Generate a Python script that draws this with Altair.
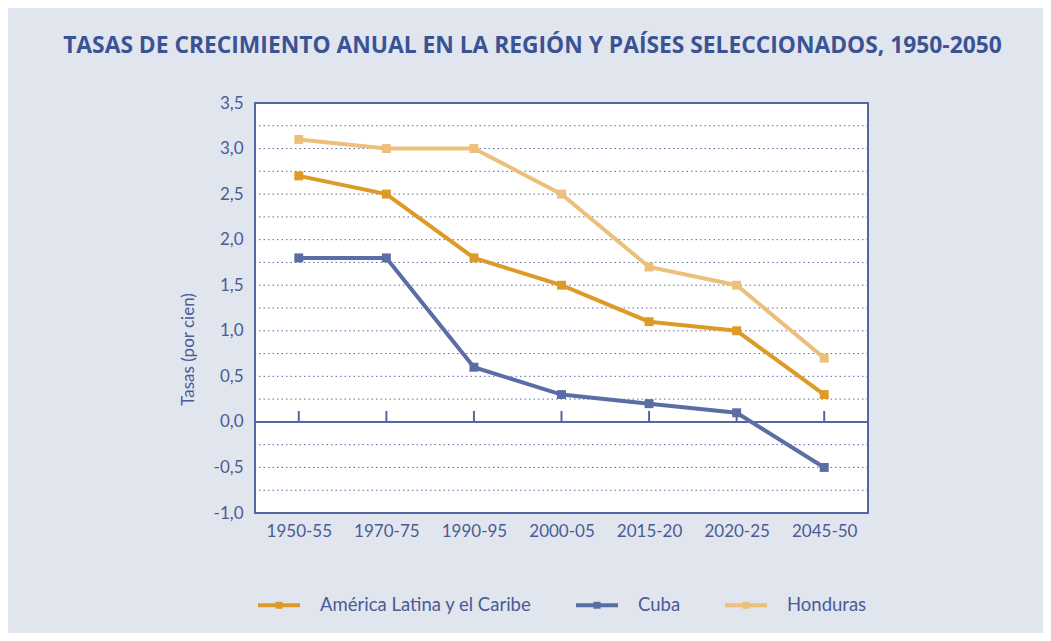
import altair as alt
import pandas as pd

periods = ["1950-55", "1970-75", "1990-95", "2000-05", "2015-20", "2020-25", "2045-50"]
series_names = ["América Latina y el Caribe", "Cuba", "Honduras"]
alc = [2.7, 2.5, 1.8, 1.5, 1.1, 1.0, 0.3]
cuba = [1.8, 1.8, 0.6, 0.3, 0.2, 0.1, -0.5]
honduras = [3.1, 3.0, 3.0, 2.5, 1.7, 1.5, 0.7]
colors = ["#DE9A26", "#5B6DA5", "#ECC07B"]
y_ticks = [-1.0, -0.5, 0.0, 0.5, 1.0, 1.5, 2.0, 2.5, 3.0, 3.5]
grid_vals = [-0.75, -0.5, -0.25, 0.25, 0.5, 0.75, 1.0, 1.25, 1.5, 1.75,
             2.0, 2.25, 2.5, 2.75, 3.0, 3.25]

rows = []
for name, vals in zip(series_names, [alc, cuba, honduras]):
    for p, v in zip(periods, vals):
        rows.append({"periodo": p, "serie": name, "tasa": v})
df = pd.DataFrame(rows)
grid_df = pd.DataFrame({"tasa": grid_vals})
tick_df = pd.DataFrame({"periodo": periods, "tasa": [0.0] * 7, "y1": [0.12] * 7})
zero_df = pd.DataFrame({"tasa": [0.0]})

BLUE = "#4A5B96"
FONT = "Lato"

xscale = alt.Scale(type="point", domain=periods, padding=0.5)
yscale = alt.Scale(domain=[-1, 3.5], nice=False, zero=False)

x_axis = alt.Axis(
    title=None, domain=False, ticks=False, grid=False, labelAngle=0,
    labelPadding=10, labelFontSize=17, labelColor=BLUE, labelFont=FONT,
)
y_axis = alt.Axis(
    title="Tasas (por cien)", values=y_ticks, domain=False, ticks=False,
    grid=False, labelPadding=12, labelFontSize=17, labelColor=BLUE,
    labelFont=FONT,
    labelExpr="replace(replace(format(datum.value, '.1f'), '.', ','), '\u2212', '-')",
    titleFont=FONT, titleFontSize=17, titleFontWeight="normal",
    titleColor=BLUE, titleX=-58, titleY=246,
)

X = alt.X("periodo:N", scale=xscale, sort=periods, axis=x_axis)
Y = alt.Y("tasa:Q", scale=yscale, axis=y_axis)

grid = alt.Chart(grid_df).mark_rule(
    color="#5B6DA5", strokeWidth=1, strokeDash=[1.5, 3]
).encode(y=Y)

zero = alt.Chart(zero_df).mark_rule(color="#5367A0", strokeWidth=2).encode(y=Y)

ticks = alt.Chart(tick_df).mark_rule(color="#5367A0", strokeWidth=2).encode(
    x=X, y=Y, y2="y1:Q",
)

legend_path = "M-1,-0.09H1V0.09H-1Z M-0.17,-0.17H0.17V0.17H-0.17Z"

lines = alt.Chart(df).mark_line(
    strokeWidth=4,
    point=alt.OverlayMarkDef(shape="square", size=80, filled=True, opacity=1),
).encode(
    x=X,
    y=Y,
    color=alt.Color(
        "serie:N",
        scale=alt.Scale(domain=series_names, range=colors),
        legend=alt.Legend(
            title=None, orient="none", direction="horizontal",
            legendX=3, legendY=481, symbolType=legend_path, symbolSize=1764,
            symbolStrokeWidth=0, labelFont=FONT, labelFontSize=18.5,
            labelColor=BLUE, labelOffset=20, columnPadding=44,
            symbolOpacity=1, labelLimit=0,
        ),
    ),
    order=alt.Order("serie:N"),
)

chart = alt.layer(grid, zero, ticks, lines).properties(
    width=613,
    height=410,
    padding={"left": 247, "top": 95, "right": 175, "bottom": 120},
    autosize=alt.AutoSizeParams(type="none"),
    background="#E1E5EE",
    title=alt.TitleParams(
        "TASAS DE CRECIMIENTO ANUAL EN LA REGIÓN Y PAÍSES SELECCIONADOS,  1950-2050",
        anchor="middle", dx=-29, offset=36, font="Open Sans", fontSize=22.8,
        fontWeight="bold", color="#3B5394",
    ),
).configure_view(
    fill="white", stroke="#5367A0", strokeWidth=2
)

chart.save("out.html", embed_options={"renderer": "svg", "actions": False})
